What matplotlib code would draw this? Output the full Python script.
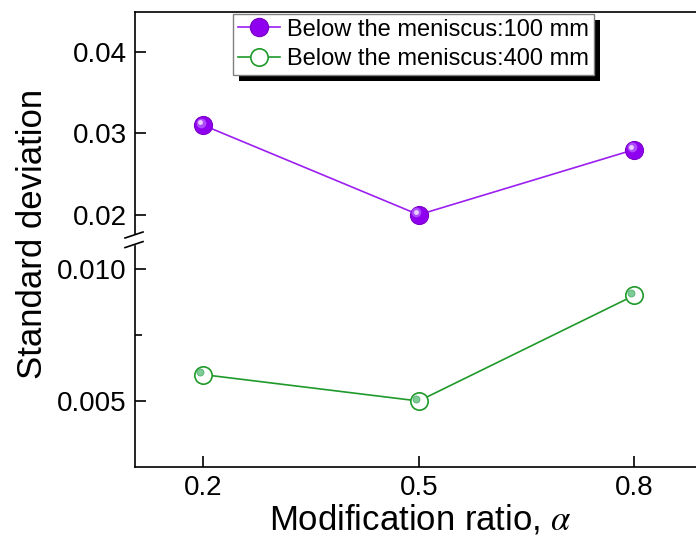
import numpy as np
import matplotlib.pyplot as plt
from matplotlib.lines import Line2D
from matplotlib.patches import Rectangle, Polygon
from matplotlib.transforms import offset_copy

plt.rcParams['font.family'] = ['Liberation Sans', 'DejaVu Sans']
plt.rcParams['mathtext.fontset'] = 'stix'

alpha = [0.2, 0.5, 0.8]
sd_100 = [0.031, 0.020, 0.028]
sd_400 = [0.006, 0.005, 0.009]
labels = ['Below the meniscus:100 mm', 'Below the meniscus:400 mm']

purple = '#9b1ff0'
green = '#1f9a2a'

W, H = 696, 536
fig = plt.figure(figsize=(W / 100, H / 100), dpi=100)
left, right = 135 / W, 706 / W
y_top, y_brk, y_bot = 1 - 12 / H, 1 - 240 / H, 1 - 467 / H
ax_hi = fig.add_axes([left, y_brk, right - left, y_top - y_brk])
ax_lo = fig.add_axes([left, y_bot, right - left, y_brk - y_bot])

for ax in (ax_hi, ax_lo):
    ax.set_xlim(0.105, 0.9)
    for s in ax.spines.values():
        s.set_linewidth(1.2)
    ax.tick_params(direction='in', length=8, width=1.2, labelsize=20, pad=6)
    ax.tick_params(which='minor', direction='in', length=5, width=1.2)

ax_hi.set_ylim(0.0169, 0.0449)
ax_hi.set_yticks([0.02, 0.03, 0.04])
ax_hi.set_yticklabels(['0.02', '0.03', '0.04'])
ax_hi.spines['bottom'].set_visible(False)
ax_hi.tick_params(axis='x', bottom=False, labelbottom=False)

ax_lo.set_ylim(0.0025, 0.0111)
ax_lo.set_yticks([0.005, 0.010])
ax_lo.set_yticklabels(['0.005', '0.010'])
ax_lo.set_yticks([0.0075], minor=True)
ax_lo.spines['top'].set_visible(False)
ax_lo.set_xticks(alpha)
ax_lo.set_xticklabels(['0.2', '0.5', '0.8'])

# upper series: shaded purple balls
ax_hi.plot(alpha, sd_100, '-', color=purple, lw=1.2, zorder=2)
ax_hi.plot(alpha, sd_100, 'o', ms=13, mfc='#9000f0', mec='#7a00c8', mew=0.8, zorder=3)
hl = offset_copy(ax_hi.transData, fig, x=-1.8, y=1.8, units='points')
ax_hi.plot(alpha, sd_100, 'o', ms=7, mfc='#b560ff', mec='none', alpha=0.8,
           transform=hl, zorder=4)
hl_b = offset_copy(ax_hi.transData, fig, x=-2.2, y=2.2, units='points')
ax_hi.plot(alpha, sd_100, 'o', ms=3.5, mfc='#ead0ff', mec='none',
           transform=hl_b, zorder=5)

# lower series: open green circles with a small inner dot
ax_lo.plot(alpha, sd_400, '-', color=green, lw=1.2, zorder=2)
ax_lo.plot(alpha, sd_400, 'o', ms=12.5, mfc='white', mec=green, mew=1.2, zorder=3)
hl2 = offset_copy(ax_lo.transData, fig, x=-2.2, y=1.6, units='points')
ax_lo.plot(alpha, sd_400, 'o', ms=5, mfc='#7fcb95', mec='#4fb070', mew=0.6,
           transform=hl2, zorder=4)

# broken axis marks on the left spine
x0, x1 = 125 / W, 143 / W
d = 6 / H
ya, yb = 1 - 238 / H, 1 - 232 / H
fig.patches.append(Polygon([[x0, ya], [x1, yb], [x1, yb - 2 * d + 1.5 / H],
                            [x0, ya - 2 * d + 1.5 / H]], closed=True,
                           transform=fig.transFigure, facecolor='white',
                           edgecolor='none', zorder=5))
for off in (0, 1.6 * d):
    fig.lines.append(Line2D([x0, x1], [ya - off, yb - off], transform=fig.transFigure,
                            color='black', lw=1.2, zorder=6))

ax_lo.set_xlabel(r'Modification ratio, $\alpha$', fontsize=25, labelpad=1)
fig.text(0.047, (y_top + y_bot) / 2 + 0.01, 'Standard deviation', rotation=90,
         fontsize=25, ha='center', va='center')

h1 = Line2D([], [], color=purple, lw=1.2, marker='o', ms=13, mfc='#9000f0', mec='#7a00c8')
h2 = Line2D([], [], color=green, lw=1.2, marker='o', ms=12.5, mfc='white', mec=green, mew=1.2)
leg = ax_hi.legend([h1, h2], labels, loc='upper left',
                   bbox_to_anchor=(233 / W, 1 - 14 / H), bbox_transform=fig.transFigure,
                   fontsize=17, frameon=True, fancybox=False, edgecolor='#808080',
                   framealpha=1, borderpad=0.2, labelspacing=0.3, handlelength=1.8,
                   handletextpad=0.3, borderaxespad=0)
leg.get_frame().set_linewidth(1.0)

# solid black drop shadow behind the legend box
fig.canvas.draw()
bb = leg.get_window_extent()
shadow = Rectangle((bb.x0 + 6, bb.y0 - 6), bb.width, bb.height, transform=None,
                   facecolor='black', edgecolor='none', zorder=4.9)
ax_hi.add_artist(shadow)

fig.savefig('out.png', dpi=100)
